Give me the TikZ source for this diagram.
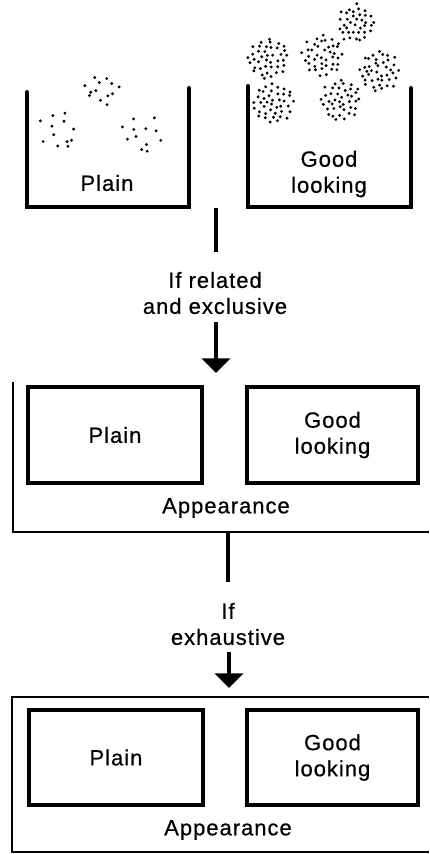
\documentclass[tikz,border=0pt]{standalone}
\usepackage{fontspec}
\setmainfont{Liberation Sans}[LetterSpace=4.5,FakeBold=0.6]
\usetikzlibrary{arrows.meta}

\tikzset{every picture/.style={line width=0.75pt}}
\tikzset{
  wall/.style={line width=3pt, line cap=round},
  frame/.style={line width=2pt},
  box/.style={draw, line width=2.6pt, inner sep=0pt},
  label/.style={font=\fontsize{16.5}{19.5}\selectfont, align=center, inner sep=0.75pt},
  stem/.style={line width=3pt},
  down/.style={line width=3pt, -{Triangle[width=21pt,length=11pt]}}
}

% round cloud of small dots: x, y, radius, count, jitter
\newcommand{\speckle}[5]{%
  \foreach \k in {1,...,#4}{%
    \fill ({#1+#3*sqrt((\k-0.5)/#4)*cos(137.508*\k)+#5*rand},
           {#2+#3*sqrt((\k-0.5)/#4)*sin(137.508*\k)+#5*rand}) circle (1.6);
  }}

\begin{document}
\begin{tikzpicture}[x=0.75pt,y=0.75pt,yscale=-1,xscale=1]
	\useasboundingbox (0,0) rectangle (429,854);
	\pgfmathsetseed{5}

	%Open buckets
	\draw [wall]   (27,92) -- (27,207) -- (189,207) -- (189,88) ;
	\draw [wall]   (248,86) -- (248,207) -- (411,207) -- (411,88) ;

	%Dots, plain
	\speckle{101}{91}{17}{13}{3}
	\speckle{60}{132}{20}{12}{4}
	\speckle{143}{134}{20}{12}{4}
	%Dots, good looking
	\speckle{356}{24}{19}{36}{1.5}
	\speckle{268}{58}{21}{40}{1.5}
	\speckle{323}{55}{21}{40}{1.5}
	\speckle{379}{71}{21}{40}{1.5}
	\speckle{273}{103}{21}{40}{1.5}
	\speckle{341}{100}{21}{40}{1.5}

	% Text Node
	\node [label] (plainTop) at (107,183) {Plain};
	% Text Node
	\node [label] (goodTop) at (329,174) {Good\\looking};

	%First step
	\coordinate (stemA) at (216,208);
	\coordinate (stemB) at (216,252);
	\draw [stem] (stemA) -- (stemB);
	\node [label] (ifRelated) at (215,293) {If related\\and exclusive};
	\coordinate (arrA) at (216,322);
	\coordinate (arrB) at (216,373);
	\draw [down] (arrA) -- (arrB);

	%Middle frame
	\draw [frame]  (13,382) -- (13,532) -- (429,532) ;
	\node [box, minimum width=130.5pt, minimum height=72pt] (plainMid) at (115,435) {};
	\node [label] at (plainMid) {Plain};
	\node [box, minimum width=128pt, minimum height=72pt] (goodMid) at (332.5,435) {};
	\node [label] at (goodMid) {Good\\looking};
	\node [label] (appMid) at (226,508) {Appearance};

	%Second step
	\coordinate (stemC) at (228,533);
	\coordinate (stemD) at (228,582);
	\draw [stem] (stemC) -- (stemD);
	\node [label] (ifExh) at (228,624) {If\\exhaustive};
	\coordinate (arrC) at (229,652);
	\coordinate (arrD) at (229,688);
	\draw [down] (arrC) -- (arrD);

	%Bottom frame
	\draw [frame]  (429,697) -- (12,697) -- (12,852) -- (429,852) ;
	\node [box, minimum width=130.5pt, minimum height=71pt] (plainLow) at (116,757.5) {};
	\node [label] at (plainLow) {Plain};
	\node [box, minimum width=128pt, minimum height=71pt] (goodLow) at (332.5,757.5) {};
	\node [label] at (goodLow) {Good\\looking};
	\node [label] (appLow) at (228,830) {Appearance};

\end{tikzpicture}
\end{document}
